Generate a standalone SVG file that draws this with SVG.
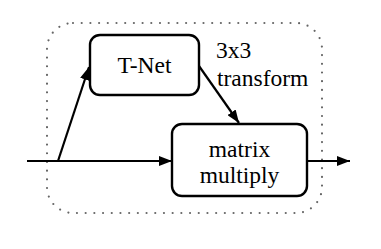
<svg xmlns="http://www.w3.org/2000/svg" width="381" height="249" viewBox="0 0 381 249">
<style>
.box{fill:#fff;stroke:#000;stroke-width:2.4}
.edge{fill:none;stroke:#000;stroke-width:2.2}
text{font-family:'Liberation Serif','Times New Roman',Times,serif;font-size:23.5px;fill:#000}
</style>
<defs>
<marker id="ah" markerWidth="13" markerHeight="10" refX="13" refY="5" orient="auto" markerUnits="userSpaceOnUse">
<path d="M0,0 L13,5 L0,10 Z" fill="#000"/>
</marker>
</defs>
<rect id="frame" x="47" y="23" width="275" height="190" rx="26" fill="none" stroke="#666" stroke-width="2.2" stroke-linecap="round" stroke-dasharray="0 8.7"/>
<g id="connectors">
<line class="edge" x1="27" y1="161" x2="172" y2="161" marker-end="url(#ah)"/>
<line class="edge" x1="58" y1="161" x2="89" y2="67" marker-end="url(#ah)"/>
<line class="edge" x1="199" y1="66" x2="239" y2="123" marker-end="url(#ah)"/>
<line class="edge" x1="307" y1="161" x2="350" y2="161" marker-end="url(#ah)"/>
</g>
<g id="tnet">
<rect class="box" x="90" y="35" width="109" height="60" rx="10"/>
<text x="144.5" y="73" text-anchor="middle" font-family="Liberation Serif, serif">T-Net</text>
</g>
<g id="label">
<text x="216" y="58" font-family="Liberation Serif, serif">3x3</text>
<text x="217" y="86" font-family="Liberation Serif, serif">transform</text>
</g>
<g id="matmul">
<rect class="box" x="172" y="124" width="135" height="72" rx="10"/>
<text x="239.5" y="157" text-anchor="middle" font-family="Liberation Serif, serif">matrix</text>
<text x="239.5" y="183" text-anchor="middle" font-family="Liberation Serif, serif">multiply</text>
</g>
</svg>
